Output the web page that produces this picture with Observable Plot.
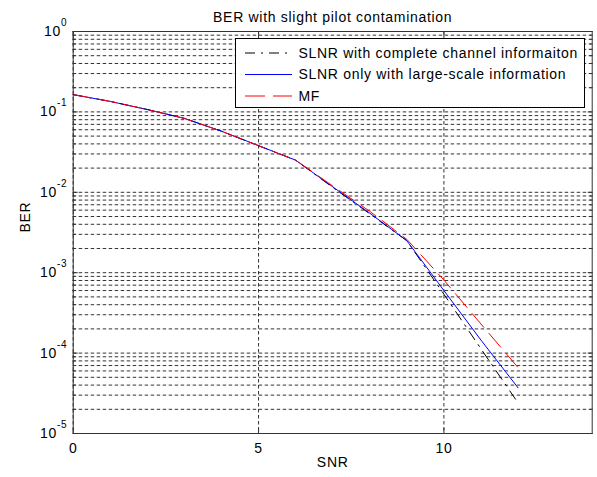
<!DOCTYPE html>
<html>
<head>
<meta charset="utf-8">
<script src="https://cdn.jsdelivr.net/npm/d3@7"></script>
<script src="https://cdn.jsdelivr.net/npm/@observablehq/plot@0.6"></script>
<style>
  html, body { margin: 0; padding: 0; background: #fff; }
  #chart svg { display: block; }
</style>
</head>
<body>
<div id="chart"></div>
<script>
// ---- data ----
const snr = [0, 1, 2, 3, 4, 5, 6, 7, 8, 9, 10, 11, 12];
const berComplete = [0.164, 0.135, 0.107, 0.083, 0.0575, 0.038, 0.0251, 0.0115, 0.0054, 0.0025, 5.4e-4, 1.13e-4, 2.4e-5];
const berLargeScale = [0.164, 0.135, 0.107, 0.083, 0.0575, 0.038, 0.0251, 0.0117, 0.0055, 0.0025, 6.0e-4, 1.45e-4, 3.7e-5];
const berMF = [0.164, 0.135, 0.107, 0.083, 0.0575, 0.038, 0.0251, 0.012, 0.0058, 0.0026, 8.1e-4, 2.3e-4, 6.6e-5];
const seriesNames = ["SLNR with complete channel informaiton", "SLNR only with large-scale information", "MF"];
const seriesColors = ["#000000", "#0000ff", "#ff0000"];
const seriesDash = ["10,6,2,6", null, "18,8"];
const legendDash = ["10,6,2,6", null, "20,8"];
const xTicks = [0, 5, 10];
const yDecades = [1e-5, 1e-4, 1e-3, 1e-2, 1e-1, 1];
const titleText = "BER with slight pilot contamination";
const xLabel = "SNR";
const yLabel = "BER";

const seriesValues = [berComplete, berLargeScale, berMF];
const rows = [];
seriesValues.forEach((vals, s) => vals.forEach((v, i) => rows.push({snr: snr[i], ber: v, series: seriesNames[s]})));

const yMinor = [];
for (let e = -5; e < 0; e++) for (let m = 2; m <= 9; m++) yMinor.push(m * Math.pow(10, e));
const yGrid = yDecades.concat(yMinor);

const FONT = "'Liberation Sans', Arial, Helvetica, sans-serif";
const LS = "0.7px";
const noLabel = () => "";

const chart = Plot.plot({
  width: 597,
  height: 477,
  marginLeft: 72.7,
  marginRight: 5.3,
  marginTop: 31,
  marginBottom: 44,
  style: {fontFamily: FONT, fontSize: "14px", background: "#fff", color: "#000"},
  x: {domain: [0, 14], label: null},
  y: {type: "log", domain: [1e-5, 1], label: null},
  marks: [
    Plot.ruleY(yGrid, {stroke: "#000", strokeOpacity: 0.8, strokeDasharray: "3.5,2.5", strokeWidth: 1}),
    Plot.ruleX(xTicks, {stroke: "#000", strokeOpacity: 0.8, strokeDasharray: "3.5,2.5", strokeWidth: 1}),
    ...seriesNames.map((name, s) =>
      Plot.line(rows.filter(d => d.series === name), {
        x: "snr", y: "ber", stroke: seriesColors[s], strokeWidth: 1,
        strokeDasharray: seriesDash[s] || undefined
      })
    ),
    Plot.frame({stroke: "#333", strokeWidth: 1}),
    Plot.axisY(yDecades, {anchor: "left", tickSize: -5, tickFormat: noLabel, label: null, stroke: "#333", ariaLabel: "tickonly"}),
    Plot.axisY(yDecades, {anchor: "right", tickSize: -5, tickFormat: noLabel, label: null, stroke: "#333", ariaLabel: "tickonly"}),
    Plot.axisY(yMinor, {anchor: "left", tickSize: -3, tickFormat: noLabel, label: null, stroke: "#333", ariaLabel: "tickonly"}),
    Plot.axisY(yMinor, {anchor: "right", tickSize: -3, tickFormat: noLabel, label: null, stroke: "#333", ariaLabel: "tickonly"}),
    Plot.axisX(xTicks, {anchor: "top", tickSize: -5, tickFormat: noLabel, label: null, stroke: "#333", ariaLabel: "tickonly"}),
    Plot.axisX(xTicks, {anchor: "bottom", tickSize: -5, tickFormat: noLabel, label: null, stroke: "#333", ariaLabel: "tickonly"}),
    Plot.axisY(yDecades, {anchor: "left", tickSize: 0, tickPadding: 6, label: null,
      tickFormat: d => String(Math.round(Math.log10(d))), fontSize: 14}),
    Plot.axisX(xTicks, {anchor: "bottom", tickSize: 0, tickPadding: 10, label: null, fontSize: 14}),
    Plot.text([titleText], {frameAnchor: "top", dy: -19, fontSize: 14}),
    Plot.text([xLabel], {frameAnchor: "bottom", dy: 33, fontSize: 14}),
    Plot.text([yLabel], {frameAnchor: "left", dx: -48, rotate: -90, fontSize: 14})
  ]
});

const svg = d3.select(chart);
// drop the empty label texts of tick-only axes
svg.selectAll("text").filter(function () { return this.textContent === ""; }).remove();
svg.selectAll("text").style("letter-spacing", LS);

// superscript exponents on the y tick labels
svg.selectAll('g[aria-label="y-axis tick label"] text').each(function () {
  const t = d3.select(this);
  const exp = t.text();
  t.text(null);
  t.append("tspan").text("10");
  t.append("tspan").attr("dy", -10).attr("font-size", 10).text(exp);
});

// legend box (top right inside the axes)
const lg = svg.append("g").attr("aria-label", "legend").attr("text-anchor", "start");
const bx = 235.5, by = 38.5, bw = 349, bh = 69;
lg.append("rect").attr("x", bx).attr("y", by).attr("width", bw).attr("height", bh)
  .attr("fill", "#fff").attr("stroke", "#000").attr("stroke-width", 1);
const rowY = [53, 74.5, 96];
seriesNames.forEach((name, s) => {
  lg.append("line").attr("x1", 245).attr("x2", 292).attr("y1", rowY[s]).attr("y2", rowY[s])
    .attr("stroke", seriesColors[s]).attr("stroke-width", 1)
    .attr("stroke-dasharray", legendDash[s]);
  lg.append("text").attr("x", 298.5).attr("y", rowY[s]).attr("dy", "0.35em")
    .attr("text-anchor", "start")
    .attr("font-family", FONT).attr("font-size", 14).style("letter-spacing", LS)
    .attr("fill", "#000").text(name);
});

document.getElementById("chart").appendChild(chart);
</script>
</body>
</html>
